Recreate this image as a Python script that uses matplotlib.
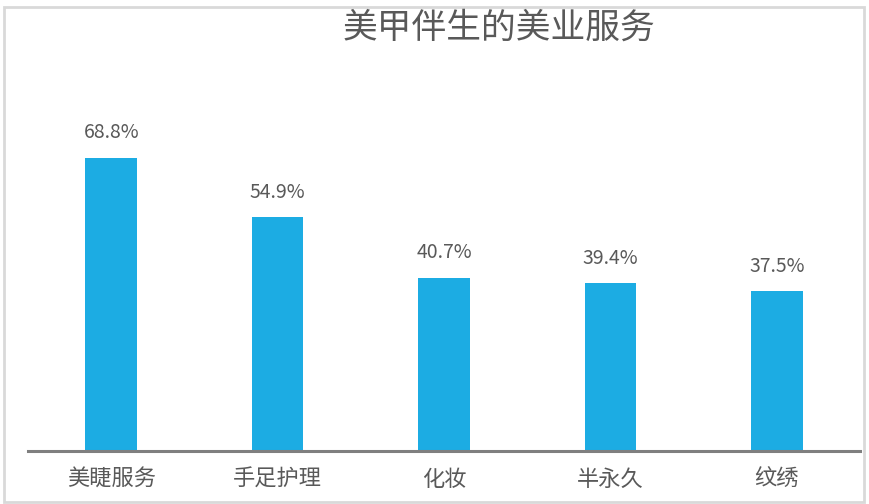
import matplotlib.pyplot as plt
from matplotlib.patches import Rectangle

plt.rcParams['font.family'] = ['Noto Sans CJK SC', 'DejaVu Sans']

categories = ["美睫服务", "手足护理", "化妆", "半永久", "纹绣"]
values = [68.8, 54.9, 40.7, 39.4, 37.5]
value_labels = ["68.8%", "54.9%", "40.7%", "39.4%", "37.5%"]

W, H = 870, 504
fig = plt.figure(figsize=(W / 100, H / 100), dpi=100)

# axes: x from 28 to 860 px, baseline at y=451, 4.26 px per unit
ymax = 80
ax = fig.add_axes([28 / W, (H - 451) / H, 832 / W, ymax * 4.26 / H])
ax.bar(range(len(values)), values, width=0.31, color="#1CACE3", zorder=2)
ax.set_xlim(-0.5, len(values) - 0.5)
ax.set_ylim(0, ymax)

for i, (v, lab) in enumerate(zip(values, value_labels)):
    ax.annotate(lab, (i, v), xytext=(0, 18), textcoords="offset points",
                ha="center", va="center", fontsize=14, color="#595959",
                fontweight="light")

for s in ["top", "left", "right"]:
    ax.spines[s].set_visible(False)
ax.spines["bottom"].set_color("#7F7F7F")
ax.spines["bottom"].set_linewidth(2.2)
ax.set_yticks([])
ax.set_xticks(range(len(categories)))
ax.set_xticklabels(categories, fontsize=16, color="#595959", fontweight="light")
ax.tick_params(axis="x", length=0, pad=12)

fig.text(499 / W, 1 - 28 / H, "美甲伴生的美业服务", ha="center", va="center",
         fontsize=25, color="#595959", fontweight="light")

# outer border
fig.patches.append(Rectangle((4 / W, 2 / H), 860 / W, 495 / H,
                             transform=fig.transFigure, fill=False,
                             edgecolor="#D9D9D9", linewidth=2))

fig.savefig("out.png", dpi=100)
